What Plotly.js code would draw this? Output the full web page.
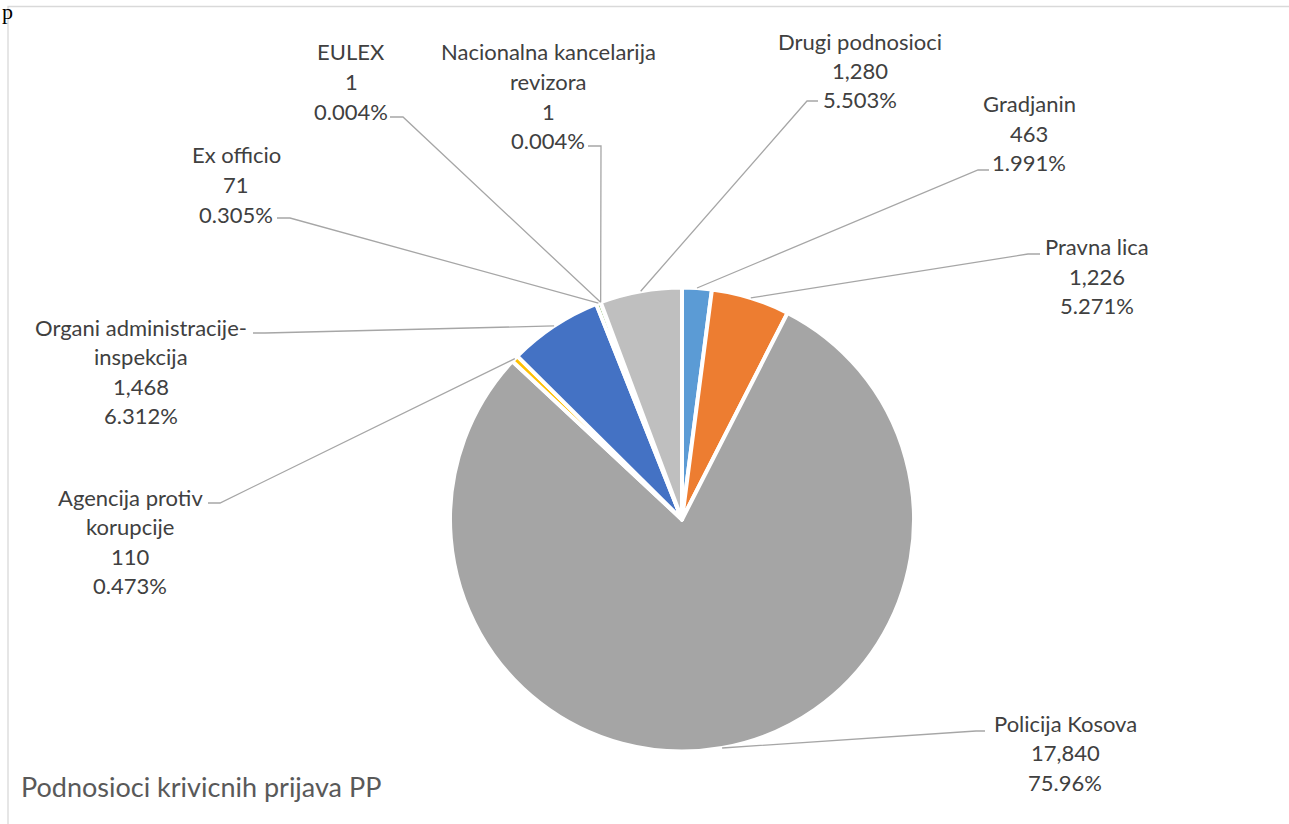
<!DOCTYPE html>
<html>
<head>
<meta charset="utf-8">
<script src="https://cdn.plot.ly/plotly-3.0.1.min.js"></script>
<style>
  html, body { margin: 0; padding: 0; background: #ffffff; }
  #chart { width: 1289px; height: 824px; }
</style>
</head>
<body>
<div id="chart"></div>
<script>
// ---- data ----
const categories = ["Gradjanin", "Pravna lica", "Policija Kosova", "Agencija protiv korupcije",
  "Organi administracije-inspekcija", "Ex officio", "EULEX", "Nacionalna kancelarija revizora", "Drugi podnosioci"];
const counts = [463, 1226, 17840, 110, 1468, 71, 1, 1, 1280];
const percentLabels = ["1.991%", "5.271%", "75.96%", "0.473%", "6.312%", "0.305%", "0.004%", "0.004%", "5.503%"];
const nameLines = [["Gradjanin"], ["Pravna lica"], ["Policija Kosova"], ["Agencija protiv", "korupcije"],
  ["Organi administracije-", "inspekcija"], ["Ex officio"], ["EULEX"], ["Nacionalna kancelarija", "revizora"], ["Drugi podnosioci"]];
const colors = ["#5B9BD5", "#ED7D31", "#A5A5A5", "#FFC000", "#4472C4", "#70AD47", "#264478", "#9E480E", "#BFBFBF"];
const chartTitle = "Podnosioci krivicnih prijava PP";

// ---- layout geometry (pixels) ----
const W = 1289, H = 824;
const cx = 682, cy = 519.5, R = 232;
const lineGap = 29.5;
// label block: centre x, first line y, leader start (edge x, elbow x, y)
const labelPos = [
  {x: 1029, y: 104, ex: 989, bx: 978, ly: 170},
  {x: 1097, y: 247, ex: 1040, bx: 1028, ly: 254},
  {x: 1065, y: 723, ex: 985, bx: 976, ly: 731},
  {x: 130, y: 497, ex: 208, bx: 220, ly: 503},
  {x: 141, y: 327, ex: 253, bx: 265, ly: 333},
  {x: 236, y: 155, ex: 277, bx: 290, ly: 218},
  {x: 351, y: 52, ex: 390, bx: 403, ly: 117},
  {x: 548, y: 52, ex: 588, bx: 601, ly: 146},
  {x: 860, y: 41, ex: 818, bx: 807, ly: 101}
];

const px = v => v / W;
const py = v => 1 - v / H;

const total = counts.reduce((a, b) => a + b, 0);
const fmt = n => n.toLocaleString("en-US");

const annotations = [];
const shapes = [];
let cum = 0;
counts.forEach((v, i) => {
  const a = (cum + v / 2) / total * 2 * Math.PI;
  cum += v;
  const sx = cx + R * Math.sin(a);
  const sy = cy - R * Math.cos(a);
  const p = labelPos[i];
  const lines = nameLines[i].concat([fmt(v), percentLabels[i]]);
  lines.forEach((t, k) => {
    annotations.push({
      text: t, showarrow: false, xref: "paper", yref: "paper",
      x: px(p.x), y: py(p.y + k * lineGap), xanchor: "center", yanchor: "middle",
      font: {family: "Lato, 'Open Sans', sans-serif", size: 22, color: "#404040"}
    });
  });
  shapes.push({
    type: "path", xref: "paper", yref: "paper",
    path: `M ${px(p.ex)},${py(p.ly)} L ${px(p.bx)},${py(p.ly)} L ${px(sx)},${py(sy)}`,
    line: {color: "#A6A6A6", width: 1.3}
  });
});

// chart frame
shapes.push({type: "rect", xref: "paper", yref: "paper",
  x0: px(8), x1: px(1295), y0: py(830), y1: py(6.5),
  line: {color: "#D9D9D9", width: 1.3}, fillcolor: "rgba(0,0,0,0)", layer: "below"});

annotations.push({
  text: chartTitle, showarrow: false, xref: "paper", yref: "paper",
  x: px(19), y: py(786), xanchor: "left", yanchor: "middle",
  font: {family: "Lato, 'Open Sans', sans-serif", size: 27, color: "#595959"}
});
annotations.push({
  text: "p", showarrow: false, xref: "paper", yref: "paper",
  x: px(0), y: py(11), xanchor: "left", yanchor: "middle",
  font: {family: "'Liberation Serif', serif", size: 22, color: "#000000"}
});

const trace = {
  type: "pie",
  labels: categories,
  values: counts,
  sort: false,
  direction: "clockwise",
  rotation: 0,
  textinfo: "none",
  hoverinfo: "none",
  marker: {colors: colors, line: {color: "#ffffff", width: 4}},
  domain: {x: [px(cx - R), px(cx + R)], y: [py(cy + R), py(cy - R)]},
  showlegend: false
};

const layout = {
  width: W, height: H,
  margin: {l: 0, r: 0, t: 0, b: 0},
  paper_bgcolor: "#ffffff",
  showlegend: false,
  annotations: annotations,
  shapes: shapes
};

Plotly.newPlot("chart", [trace], layout, {displayModeBar: false, staticPlot: true});
</script>
</body>
</html>
